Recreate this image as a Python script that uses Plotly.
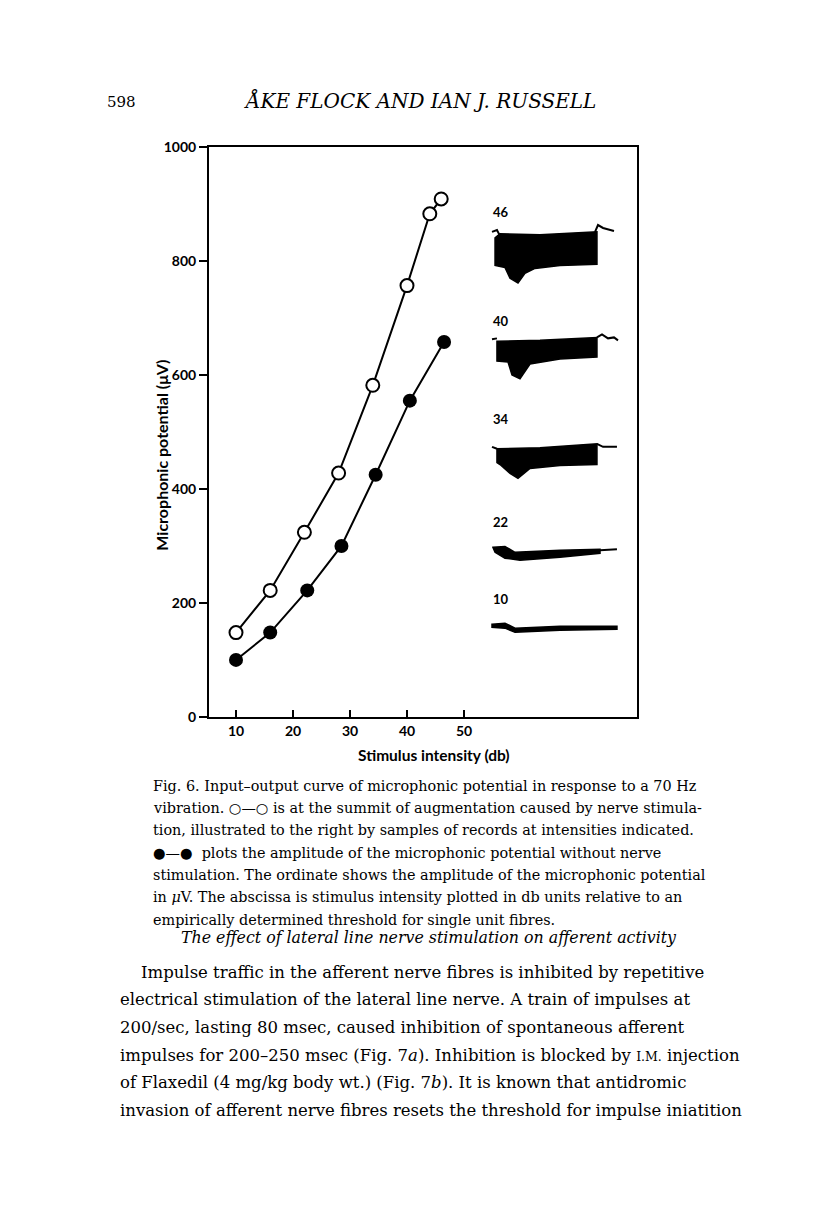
import plotly.graph_objects as go

# ---- data ----
open_db = [10, 16, 22, 28, 34, 40, 44, 46]
open_uv = [148, 222, 324, 428, 582, 757, 883, 909]
filled_db = [10, 16, 22.5, 28.5, 34.5, 40.5, 46.5]
filled_uv = [100, 148, 222, 300, 425, 555, 658]
x_ticks = [10, 20, 30, 40, 50]
y_ticks = [0, 200, 400, 600, 800, 1000]
record_labels = ["46", "40", "34", "22", "10"]

OFF = 8                      # browser body margin
W, H = 816 - 2 * OFF, 1211 - 2 * OFF
L, R, T, B = 209, 637, 140, 718  # plot area in page pixels

def fx(x):
    return (x - OFF) / W

def fy(y):
    return 1 - (y - OFF) / H

fig = go.Figure()
fig.add_trace(go.Scatter(x=open_db, y=open_uv, mode="lines+markers",
                         line=dict(color="black", width=2),
                         marker=dict(symbol="circle", size=13, color="white",
                                     line=dict(color="black", width=2)),
                         showlegend=False))
fig.add_trace(go.Scatter(x=filled_db, y=filled_uv, mode="lines+markers",
                         line=dict(color="black", width=2),
                         marker=dict(symbol="circle", size=14, color="black"),
                         showlegend=False))

tickfont = dict(family="Lato", size=14, color="black", weight="bold")
fig.update_layout(
    width=W, height=H,
    margin=dict(l=0, r=0, t=0, b=0, pad=0),
    paper_bgcolor="white", plot_bgcolor="white",
    xaxis=dict(domain=[fx(L), fx(R)],
               range=[10 - (236 - L) / 5.7, 10 + (R - 236) / 5.7],
               tickvals=x_ticks, ticktext=[str(v) for v in x_ticks],
               ticks="inside", ticklen=7, tickwidth=2, tickcolor="black",
               showline=True, linewidth=2, linecolor="black", mirror=True,
               showgrid=False, zeroline=False, tickfont=tickfont),
    yaxis=dict(domain=[fy(B), fy(T)], range=[0, 1000], tickvals=y_ticks,
               ticks="outside", ticklen=8, tickwidth=2, tickcolor="black",
               showline=True, linewidth=2, linecolor="black", mirror=True,
               showgrid=False, zeroline=False, tickfont=tickfont),
)

def note(text, x, y, size, family, xanchor="left", angle=0, weight="normal"):
    return dict(text=text, x=fx(x), y=fy(y), xref="paper", yref="paper",
                xanchor=xanchor, yanchor="middle", showarrow=False, textangle=angle,
                font=dict(family=family, size=size, color="black", weight=weight))

ann = []
ann.append(note("Stimulus intensity (db)", 434, 757, 15.5, "Lato", "center", weight="bold"))
ann.append(note("Microphonic potential (\u03bcV)", 162, 453, 16, "Lato", "center", -90, "bold"))

label_y = [206, 316, 416, 520, 598]
for lab, ly in zip(record_labels, label_y):
    ann.append(note(lab, 491, ly, 13, "Lato", weight="bold"))

serif = "DejaVu Serif"
ann.append(note("598", 138, 94, 15, serif, "right"))
ann.append(note("<i>\u00c5KE FLOCK AND IAN J. RUSSELL</i>", 420, 93, 20, serif, "center"))

caption = [
    "Fig. 6. Input\u2013output curve of microphonic potential in response to a 70 Hz",
    "vibration. \u25cb\u2014\u25cb is at the summit of augmentation caused by nerve stimula-",
    "tion, illustrated to the right by samples of records at intensities indicated.",
    "\u25cf\u2014\u25cf  plots the amplitude of the microphonic potential without nerve",
    "stimulation. The ordinate shows the amplitude of the microphonic potential",
    "in <i>\u03bc</i>V. The abscissa is stimulus intensity plotted in db units relative to an",
    "empirically determined threshold for single unit fibres.",
]
for i, line in enumerate(caption):
    ann.append(note(line, 151, 788 + 22.6 * i, 14.4, serif))

ann.append(note("<i>The effect of lateral line nerve stimulation on afferent activity</i>",
                429, 942, 15.8, serif, "center"))

body = [
    "Impulse traffic in the afferent nerve fibres is inhibited by repetitive",
    "electrical stimulation of the lateral line nerve. A train of impulses at",
    "200/sec, lasting 80 msec, caused inhibition of spontaneous afferent",
    "impulses for 200\u2013250 msec (Fig. 7<i>a</i>). Inhibition is blocked by <span style='font-size:12.5px'>I.M.</span> injection",
    "of Flaxedil (4 mg/kg body wt.) (Fig. 7<i>b</i>). It is known that antidromic",
    "invasion of afferent nerve fibres resets the threshold for impulse iniatition",
]
for i, line in enumerate(body):
    ann.append(note(line, 139 if i == 0 else 118, 977 + 28 * i, 16.5, serif))

fig.update_layout(annotations=ann)

# ---- oscilloscope record sketches (decorative outlines, page pixels) ----
def path(points, close=True):
    s = "M " + " L ".join(f"{fx(a):.4f},{fy(b):.4f}" for a, b in points)
    return s + (" Z" if close else "")

blocks = [
    [(495, 232), (500, 228), (540, 229), (597, 226), (597, 259), (560, 260), (535, 263),
     (525, 268), (518, 278), (510, 273), (505, 262), (495, 260)],
    [(497, 337), (540, 336), (597, 333), (597, 353), (560, 355), (530, 360), (520, 375),
     (512, 371), (508, 358), (497, 357)],
    [(497, 446), (540, 445), (597, 441), (597, 462), (560, 463), (530, 466), (518, 476),
     (510, 471), (500, 462), (497, 460)],
    [(493, 546), (505, 545), (515, 551), (560, 549), (600, 548), (600, 552), (560, 556),
     (520, 559), (505, 557), (495, 551)],
    [(492, 624), (505, 623), (515, 628), (560, 626), (617, 626), (617, 629), (560, 630),
     (515, 632), (505, 628), (492, 627)],
]
tails = [
    [(492, 226), (497, 224), (500, 230)],
    [(595, 226), (598, 219), (603, 222), (614, 225)],
    [(492, 335), (497, 334)],
    [(597, 333), (602, 330), (608, 334), (614, 333), (618, 336)],
    [(492, 444), (497, 446)],
    [(597, 441), (603, 444), (617, 444)],
    [(600, 549), (617, 548)],
]
shapes = []
for b in blocks:
    shapes.append(dict(type="path", path=path(b), xref="paper", yref="paper",
                       fillcolor="black", line=dict(color="black", width=1.5)))
for t in tails:
    shapes.append(dict(type="path", path=path(t, close=False), xref="paper", yref="paper",
                       line=dict(color="black", width=2)))
fig.update_layout(shapes=shapes)

fig.write_html("out.html")
